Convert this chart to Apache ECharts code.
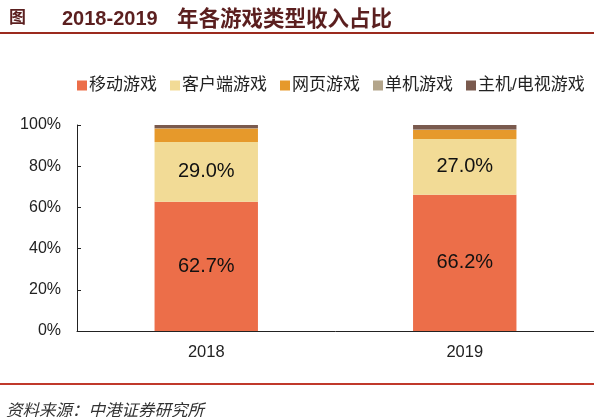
<!DOCTYPE html>
<html><head><meta charset="utf-8">
<script src="https://cdn.jsdelivr.net/npm/echarts@6/dist/echarts.min.js"></script>
<style>html,body{margin:0;padding:0;background:#fff}#c{width:594px;height:417px}</style>
</head><body><div id="c"></div>
<script>
var categories = ['2018', '2019'];
var seriesNames = ['移动游戏', '客户端游戏', '网页游戏', '单机游戏', '主机/电视游戏'];
var mobile = [62.7, 66.2];
var client = [29.0, 27.0];
var web = [6.6, 4.4];
var single = [0.1, 0.2];
var console_ = [1.6, 2.2];
var yTicks = [0, 20, 40, 60, 80, 100];
var colors = ['#EC6E49', '#F2DB96', '#E6992B', '#B3A58B', '#7A5A4E'];
var values = [mobile, client, web, single, console_];

var chart = echarts.init(document.getElementById('c'));
var font = '"Liberation Sans", Arial, "Noto Sans CJK SC", sans-serif';
var cjk = '"Noto Sans CJK SC", sans-serif';
chart.setOption({
  animation: false,
  color: colors,
  title: [
    {text: '图', left: 4, top: 3, textStyle: {fontFamily: cjk, fontSize: 17, fontWeight: 'bold', color: '#5b1f1f'}},
    {text: '2018-2019', left: 57, top: 4, textStyle: {fontFamily: font, fontSize: 20, fontWeight: 'bold', color: '#5b1f1f'}},
    {text: '年各游戏类型收入占比', left: 172, top: 2, textStyle: {fontFamily: cjk, fontSize: 21.5, fontWeight: 'bold', color: '#5b1f1f'}},
    {text: '资料来源：中港证券研究所', left: 1, top: 396, textStyle: {fontFamily: cjk, fontSize: 16.5, fontWeight: 'normal', fontStyle: 'italic', color: '#333'}}
  ],
  graphic: [
    {type: 'rect', shape: {x: 0, y: 32, width: 594, height: 2}, style: {fill: '#9b2a1e'}},
    {type: 'rect', shape: {x: 0, y: 383, width: 594, height: 2}, style: {fill: '#c0392b'}}
  ],
  legend: {
    data: seriesNames, left: 72, top: 72, itemWidth: 10, itemHeight: 10, itemGap: 13,
    icon: 'rect',
    textStyle: {fontFamily: font, fontSize: 17, color: '#222', padding: [0, 0, 0, -3]}
  },
  grid: {left: 77, right: 0, top: 125, bottom: 86, containLabel: false},
  xAxis: {
    type: 'category', data: categories,
    axisLine: {lineStyle: {color: '#222', width: 1}},
    axisTick: {inside: true, length: 6, lineStyle: {color: '#222'}},
    axisLabel: {fontFamily: font, fontSize: 16.5, color: '#222', margin: 13}
  },
  yAxis: {
    type: 'value', min: 0, max: 100, interval: 20,
    axisLine: {show: true, lineStyle: {color: '#222'}},
    axisTick: {show: true, inside: true, length: 4, lineStyle: {color: '#222'}},
    splitLine: {show: false},
    axisLabel: {fontFamily: font, fontSize: 16, color: '#222', margin: 16,
      formatter: function (v) { return yTicks.indexOf(v) >= 0 ? v + '%' : ''; }}
  },
  series: seriesNames.map(function (n, i) {
    return {
      name: n, type: 'bar', stack: 'a', data: values[i], barWidth: '40%',
      label: {show: i < 2, position: 'inside', fontFamily: font, fontSize: 20, color: '#111',
        formatter: function (p) { return p.value.toFixed(1) + '%'; }}
    };
  })
});
</script></body></html>
